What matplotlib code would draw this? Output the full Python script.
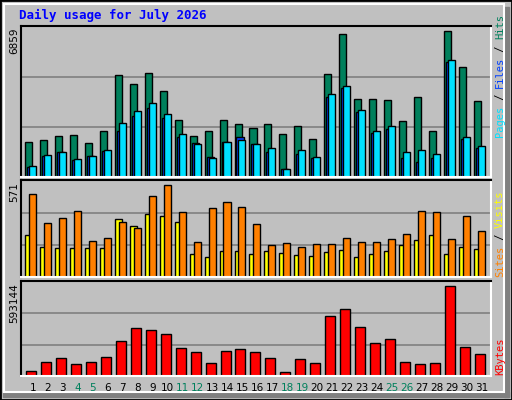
import numpy as np
import matplotlib.pyplot as plt
from matplotlib.patches import Rectangle

days = np.arange(1, 32)
weekend = [4, 5, 11, 12, 18, 19, 25, 26]

hits = [1620, 1680, 1860, 1920, 1540, 2130, 4680, 4270, 4770, 3950, 2630, 1860, 2090,
        2630, 2410, 2270, 2410, 1950, 2360, 1730, 4720, 6540, 3590, 3590, 3540, 2590,
        3680, 2090, 6680, 5040, 3500]
files = [450, 950, 1140, 770, 950, 1180, 2090, 2820, 3180, 2720, 1820, 1540, 910,
         1590, 1820, 1500, 1140, 360, 1040, 860, 3680, 4090, 3000, 2040, 2220, 860,
         680, 860, 5270, 1730, 1320]
pages = [500, 1000, 1140, 820, 950, 1230, 2500, 3040, 3410, 2910, 1950, 1500, 860,
         1590, 1680, 1500, 1320, 360, 1230, 910, 3810, 4180, 3090, 2130, 2320, 1140,
         1230, 1040, 5360, 1820, 1410]
sites = [494, 321, 351, 393, 214, 232, 327, 292, 482, 547, 387, 208, 411, 446, 417,
         315, 190, 202, 178, 196, 196, 232, 208, 208, 226, 256, 393, 387, 226, 363, 274]
visits = [250, 178, 173, 173, 173, 173, 345, 303, 375, 363, 327, 137, 119, 155, 155,
          137, 155, 143, 131, 125, 149, 161, 119, 137, 155, 190, 220, 250, 137, 178, 167]
kbytes = [31000, 87000, 112000, 75000, 87000, 119000, 219000, 300000, 293000, 268000,
          175000, 150000, 81000, 156000, 169000, 150000, 112000, 25000, 106000, 81000,
          381000, 425000, 312000, 206000, 231000, 87000, 75000, 81000, 568000, 181000, 137000]
max_hits, max_sites, max_kb = 6859, 571, 593144

W, H = 512, 400
fig = plt.figure(figsize=(W / 100, H / 100), dpi=100, facecolor='#C0C0C0')
mono = 'DejaVu Sans Mono'

# outer frame with 3D look
fig.add_artist(Rectangle(((W - 8) / W, 3 / H), 5 / W, (H - 10) / H, transform=fig.transFigure,
                         color='#808080'))
fig.add_artist(Rectangle((3 / W, 3 / H), (W - 6) / W, 5 / H, transform=fig.transFigure,
                         color='#808080'))
fig.add_artist(Rectangle((4 / W, 8 / H), (W - 12) / W, (H - 12) / H, transform=fig.transFigure,
                         fill=False, edgecolor='white', lw=1.5))
fig.add_artist(Rectangle((0, 0), 1, 1, transform=fig.transFigure, fill=False,
                         edgecolor='black', lw=2))

fig.text(19 / W, 1 - 15 / H, 'Daily usage for July 2026', color='#0000FF', family=mono,
         weight='bold', fontsize=9, va='center')

x0, x1 = 21, 491
panels = [(26, 177), (180, 277), (281, 376)]


def make_ax(top, bot, ymax):
    ax = fig.add_axes([x0 / W, 1 - bot / H, (x1 - x0) / W, (bot - top) / H])
    ax.set_facecolor('#C0C0C0')
    ax.set_xlim(0.2, 31.65)
    ax.set_ylim(0, ymax * 1.01)
    for y in (ymax / 3, 2 * ymax / 3):
        ax.axhline(y, color='#808080', lw=1.2, zorder=0)
    ax.spines['top'].set_color('black')
    ax.spines['left'].set_color('black')
    ax.spines['bottom'].set_color('white')
    ax.spines['right'].set_color('white')
    for s in ax.spines.values():
        s.set_linewidth(1.5)
    ax.set_xticks([])
    ax.set_yticks([])
    fig.text(14 / W, 1 - top / H - 2 / H, str(ymax), rotation=90, family='DejaVu Sans',
             fontsize=7.5, va='top', ha='center')
    return ax


bw = 0.47
kw = dict(edgecolor='black', linewidth=1, align='edge')
ax1 = make_ax(*panels[0], max_hits)
ax1.bar(days - 0.51, hits, bw, color='#00805C', **kw)
ax1.bar(days - 0.38, files, bw, color='#0040FF', **kw)
ax1.bar(days - 0.25, pages, bw, color='#00E0FF', **kw)

ax2 = make_ax(*panels[1], max_sites)
ax2.bar(days - 0.51, visits, bw, color='#FFFF00', **kw)
ax2.bar(days - 0.25, sites, bw, color='#FF8000', **kw)

ax3 = make_ax(*panels[2], max_kb)
ax3.bar(days - 0.45, kbytes, 0.67, color='#FF0000', **kw)

# day labels
for d in days:
    xf = ax3.transData.transform((d, 0))[0] / fig.dpi / fig.get_size_inches()[0]
    fig.text(xf, 1 - 388 / H, str(d), ha='center', va='center', fontsize=7.5,
             color='#00805C' if d in weekend else 'black')


def side_label(parts, y_bottom):
    y = y_bottom
    for txt, col in parts:
        fig.text(500 / W, y / H, txt, rotation=90, color=col, family=mono,
                 fontsize=7.5, ha='center', va='bottom')
        y += len(txt) * 6.1


side_label([('Pages', '#00E0FF'), (' / ', '#000000'), ('Files', '#0040FF'),
            (' / ', '#000000'), ('Hits', '#00805C')], H - 137)
side_label([('Sites', '#FF8000'), (' / ', '#000000'), ('Visits', '#FFFF00')], H - 277)
side_label([('KBytes', '#FF0000')], H - 375)

fig.savefig('out.png', dpi=100, facecolor=fig.get_facecolor())
